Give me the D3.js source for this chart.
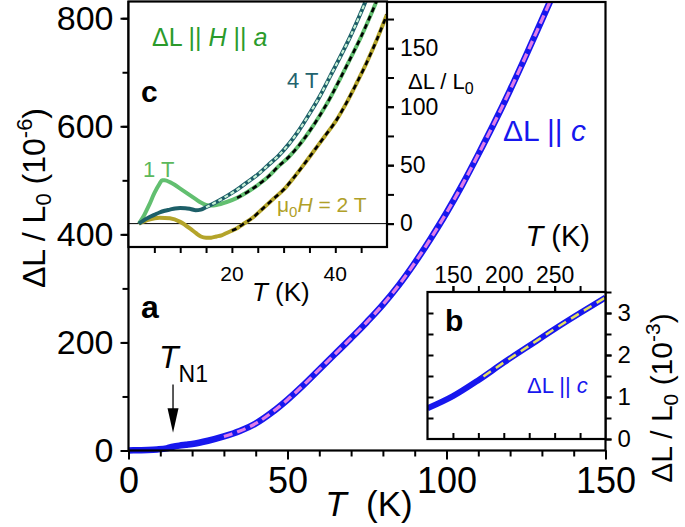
<!DOCTYPE html>
<html><head><meta charset="utf-8">
<script src="https://cdn.jsdelivr.net/npm/d3@7"></script>
<style>body{margin:0;background:#fff}svg{display:block}text{font-family:"Liberation Sans",Arial,sans-serif}</style>
</head><body><svg id="c" width="685" height="527"></svg>
<script>
// ---- main panel (a): dL/L0 along c, 10^-6 ----
const mainT = [0,3,6,9,12,14,16,18,20,25,30,35,40,45,50,55,60,65,70,75,80,85,90,95,100,105,110,115,120,125,130,134];
const mainV = [0,0.5,1,2,4,7,9,10.5,12,18,26,36,50,70,94,121,150,179,208,238,270,306,347,392,440,492,548,606,667,731,797,850];
const mainFitStart = 30;
const mainXTicks = [0,50,100,150];
const mainYTicks = [0,200,400,600,800];
const TN1 = 14;

// ---- inset b: dL/L0 along c, 10^-3, high T ----
const bT = [125,150,175,200,225,250,275,300];
const bV = [0.73,1.02,1.40,1.82,2.22,2.62,3.0,3.37];
const bFitT = [180,200,225,250,275,300];
const bFitV = [1.49,1.82,2.22,2.62,3.0,3.37];
const bXTicks = [150,200,250];
const bYTicks = [0,1,2,3];

// ---- inset c: dL || H || a, 10^-6 ----
const c1T = [2,3,4,5,6,6.5,7,8,9,10,11,12,13,14,15,16,17,19,21,23,25,27,29,31,33,35,37,39,41,43,45,47,48];
const c1V = [0,7,16,26,34,37,37,35.5,33,30,27,24,21,18,16,15.5,16,18.5,22,27,33,40,49,57,67,79,92.5,107.5,124.5,142,160,180,190.5];
const c4T = [2,3,4,5,6,7,8,9,10,11,12,13,14,15,17,19,21,23,25,27,29,31,33,35,37,39,41,43,45,46,47];
const c4V = [0,3,5.5,7.5,9.5,11,12,13,13.3,13.2,12.5,11.5,12,14,18.5,23.5,29,35.5,42,50,58,68,80,94,109,126,143,161,181,191.5,202];
const c2T = [2,4,6,8,10,12,13,14,15,16,17,18,19,20,21,22,24,26,28,30,32,34,36,38,40,42,44,46,48,50];
const c2V = [0,3.5,5,4.5,1.5,-4.5,-8,-11,-12,-12,-11,-10,-8,-6,-4,-1,5,13,21,29,39.5,51,63,75,87,102,119,137,157,179];
const cFitStart = {c1:20, c4:15, c2:20};
const cXLabels = [20,40];
const cYTicks = [0,50,100,150];

const svg = d3.select("#c");
const zip = (T,V,min=-Infinity) => T.map((t,i)=>[t,V[i]]).filter(d=>d[0]>=min);

// ================= MAIN =================
const x = d3.scaleLinear([0,150],[128.5,605.5]);
const y = d3.scaleLinear([0,830],[450.5,2]);
svg.append("clipPath").attr("id","cm").append("rect")
  .attr("x",x(0)).attr("y",y(830)).attr("width",x(150)-x(0)).attr("height",y(0)-y(830)+4);
const lineM = d3.line().x(d=>x(d[0])).y(d=>y(d[1])).curve(d3.curveMonotoneX);
const gm = svg.append("g").attr("clip-path","url(#cm)");
gm.append("path").attr("d",lineM(zip(mainT,mainV))).attr("fill","none").attr("stroke","#1717ee").attr("stroke-width",6.5);
gm.append("path").attr("d",lineM(zip(mainT,mainV,mainFitStart))).attr("fill","none").attr("stroke","#e07ce6").attr("stroke-width",3.2).attr("stroke-dasharray","9,5");

// axes
svg.append("g").attr("transform",`translate(0,${y(0)})`)
  .call(d3.axisBottom(x).tickValues(d3.range(0,151,10)).tickSize(6).tickFormat(""))
  .call(g=>g.select(".domain").remove());
svg.append("g").attr("transform",`translate(0,${y(0)})`)
  .call(d3.axisBottom(x).tickValues(mainXTicks).tickSize(9).tickPadding(8).tickFormat(d3.format("d")))
  .call(g=>g.select(".domain").remove())
  .call(g=>g.selectAll("text").attr("font-size",36).attr("fill","#000"));
svg.append("g").attr("transform",`translate(${x(0)},0)`)
  .call(d3.axisLeft(y).tickValues(d3.range(0,801,100)).tickSize(6).tickFormat(""))
  .call(g=>g.select(".domain").remove());
svg.append("g").attr("transform",`translate(${x(0)},0)`)
  .call(d3.axisLeft(y).tickValues(mainYTicks).tickSize(8).tickPadding(7).tickFormat(d3.format("d")))
  .call(g=>g.select(".domain").remove())
  .call(g=>g.selectAll("text").attr("font-size",34).attr("fill","#000"));
svg.selectAll(".tick line").attr("stroke","#000").attr("stroke-width",2);
svg.append("rect").attr("x",x(0)).attr("y",y(830)).attr("width",x(150)-x(0)).attr("height",y(0)-y(830))
  .attr("fill","none").attr("stroke","#000").attr("stroke-width",2.2);

// main labels
const yl = svg.append("text").attr("transform","translate(45,198) rotate(-90)").attr("text-anchor","middle").attr("font-size",32);
yl.append("tspan").text("ΔL / L");
yl.append("tspan").attr("font-size",22).attr("dy",6).text("0");
yl.append("tspan").attr("dy",-6).text(" (10");
yl.append("tspan").attr("font-size",22).attr("dy",-13).text("-6");
yl.append("tspan").attr("dy",13).text(")");
const xl = svg.append("text").attr("x",369).attr("y",516).attr("text-anchor","middle").attr("font-size",35);
xl.append("tspan").attr("font-style","italic").text("T");
xl.append("tspan").text("\u00a0 (K)");
svg.append("text").attr("x",141).attr("y",318).attr("font-size",32).attr("font-weight","bold").text("a");
const lc = svg.append("text").attr("x",503).attr("y",141).attr("font-size",30).attr("fill","#1717ee");
lc.append("tspan").text("ΔL || ");
lc.append("tspan").attr("font-style","italic").text("c");
// TN1 arrow
const tn = svg.append("text").attr("x",159).attr("y",368).attr("font-size",32);
tn.append("tspan").attr("font-style","italic").text("T");
tn.append("tspan").attr("font-size",23).attr("dy",14).text("N1");
svg.append("line").attr("x1",x(TN1)).attr("x2",x(TN1)).attr("y1",y(122)).attr("y2",y(70)).attr("stroke","#000").attr("stroke-width",1.3);
svg.append("path").attr("d",`M${x(TN1)-5.5},${y(78)}L${x(TN1)+5.5},${y(78)}L${x(TN1)},${y(33)}Z`).attr("fill","#000");

// ================= INSET B =================
const xb = d3.scaleLinear([125,300],[427.5,605.5]);
const yb = d3.scaleLinear([0,3.5],[439,292]);
svg.append("rect").attr("x",xb(125)).attr("y",yb(3.5)).attr("width",xb(300)-xb(125)).attr("height",yb(0)-yb(3.5)).attr("fill","#fff");
svg.append("clipPath").attr("id","cb").append("rect").attr("x",xb(125)).attr("y",yb(3.5)).attr("width",xb(300)-xb(125)).attr("height",yb(0)-yb(3.5));
const lineB = d3.line().x(d=>xb(d[0])).y(d=>yb(d[1])).curve(d3.curveMonotoneX);
const gb = svg.append("g").attr("clip-path","url(#cb)");
gb.append("path").attr("d",lineB(zip(bT,bV))).attr("fill","none").attr("stroke","#1717ee").attr("stroke-width",6);
gb.append("path").attr("d",lineB(zip(bFitT,bFitV))).attr("fill","none").attr("stroke","#e6e060").attr("stroke-width",2.5).attr("stroke-dasharray","9,6");
const gbAx = svg.append("g");
gbAx.append("g").attr("transform",`translate(0,${yb(3.5)})`)
  .call(d3.axisTop(xb).tickValues(d3.range(150,300,25)).tickSize(6).tickFormat(""));
gbAx.append("g").attr("transform",`translate(0,${yb(3.5)})`)
  .call(d3.axisTop(xb).tickValues(bXTicks).tickSize(6).tickPadding(3).tickFormat(d3.format("d")))
  .call(g=>g.selectAll("text").attr("font-size",23).attr("fill","#000"));
gbAx.append("g").attr("transform",`translate(0,${yb(0)})`)
  .call(d3.axisTop(xb).tickValues(d3.range(150,300,25)).tickSize(6).tickFormat(""));
gbAx.append("g").attr("transform",`translate(${xb(125)},0)`)
  .call(d3.axisRight(yb).tickValues(d3.range(0.5,3.5,0.5)).tickSize(6).tickFormat(""));
gbAx.append("g").attr("transform",`translate(${xb(300)},0)`)
  .call(d3.axisRight(yb).tickValues(d3.range(0,3.6,0.5)).tickSize(6).tickFormat(""));
gbAx.append("g").attr("transform",`translate(${xb(300)},0)`)
  .call(d3.axisRight(yb).tickValues(bYTicks).tickSize(6).tickPadding(6).tickFormat(d3.format("d")))
  .call(g=>g.selectAll("text").attr("font-size",24).attr("fill","#000"));
gbAx.selectAll(".domain").remove();
gbAx.selectAll(".tick line").attr("stroke","#000").attr("stroke-width",2);
svg.append("rect").attr("x",xb(125)).attr("y",yb(3.5)).attr("width",xb(300)-xb(125)).attr("height",yb(0)-yb(3.5))
  .attr("fill","none").attr("stroke","#000").attr("stroke-width",2.2);
svg.append("text").attr("x",445).attr("y",331).attr("font-size",30).attr("font-weight","bold").text("b");
const lb = svg.append("text").attr("x",527).attr("y",393).attr("font-size",22).attr("fill","#1717ee");
lb.append("tspan").text("ΔL || ");
lb.append("tspan").attr("font-style","italic").text("c");
const tb = svg.append("text").attr("x",590).attr("y",246).attr("text-anchor","end").attr("font-size",29);
tb.append("tspan").attr("font-style","italic").text("T");
tb.append("tspan").text(" (K)");
const yr = svg.append("text").attr("transform","translate(672,398) rotate(-90)").attr("text-anchor","middle").attr("font-size",30);
yr.append("tspan").text("ΔL / L");
yr.append("tspan").attr("font-size",21).attr("dy",6).text("0");
yr.append("tspan").attr("dy",-6).text(" (10");
yr.append("tspan").attr("font-size",21).attr("dy",-12).text("-3");
yr.append("tspan").attr("dy",12).text(")");

// ================= INSET C =================
const xc = d3.scaleLinear([0,50],[128.5,387]);
const yc = d3.scaleLinear([-20,190],[247,1.5]);
svg.append("rect").attr("x",xc(0)).attr("y",yc(190)).attr("width",xc(50)-xc(0)).attr("height",yc(-20)-yc(190)).attr("fill","#fff");
svg.append("clipPath").attr("id","cc").append("rect").attr("x",xc(0)).attr("y",yc(190)).attr("width",xc(50)-xc(0)).attr("height",yc(-20)-yc(190));
const lineC = d3.line().x(d=>xc(d[0])).y(d=>yc(d[1])).curve(d3.curveMonotoneX);
const gc = svg.append("g").attr("clip-path","url(#cc)");
gc.append("line").attr("x1",xc(0)).attr("x2",xc(50)).attr("y1",yc(0)).attr("y2",yc(0)).attr("stroke","#000").attr("stroke-width",1);
gc.append("path").attr("d",lineC(zip(c2T,c2V))).attr("fill","none").attr("stroke","#b4a42a").attr("stroke-width",4);
gc.append("path").attr("d",lineC(zip(c1T,c1V))).attr("fill","none").attr("stroke","#62bf70").attr("stroke-width",4);
gc.append("path").attr("d",lineC(zip(c4T,c4V))).attr("fill","none").attr("stroke","#1d5f68").attr("stroke-width",4);
gc.append("path").attr("d",lineC(zip(c2T,c2V,cFitStart.c2))).attr("fill","none").attr("stroke","#000").attr("stroke-width",2.6).attr("stroke-dasharray","5,4");
gc.append("path").attr("d",lineC(zip(c1T,c1V,cFitStart.c1))).attr("fill","none").attr("stroke","#000").attr("stroke-width",2.6).attr("stroke-dasharray","5,4");
gc.append("path").attr("d",lineC(zip(c4T,c4V,cFitStart.c4))).attr("fill","none").attr("stroke","#c8f2d8").attr("stroke-width",2.2).attr("stroke-dasharray","4,3");
const gcAx = svg.append("g");
gcAx.append("g").attr("transform",`translate(0,${yc(-20)})`)
  .call(d3.axisBottom(xc).tickValues(d3.range(5,50,5)).tickSize(6).tickFormat(""));
gcAx.append("g").attr("transform",`translate(${xc(50)},0)`)
  .call(d3.axisRight(yc).tickValues(d3.range(0,190,25)).tickSize(7).tickFormat(""));
gcAx.append("g").attr("transform",`translate(${xc(50)},0)`)
  .call(d3.axisRight(yc).tickValues(cYTicks).tickSize(7).tickPadding(6).tickFormat(d3.format("d")))
  .call(g=>g.selectAll("text").attr("font-size",23).attr("fill","#000"));
gcAx.selectAll(".domain").remove();
gcAx.selectAll(".tick line").attr("stroke","#000").attr("stroke-width",2);
svg.append("rect").attr("x",xc(0)).attr("y",yc(190)).attr("width",xc(50)-xc(0)).attr("height",yc(-20)-yc(190))
  .attr("fill","none").attr("stroke","#000").attr("stroke-width",2.2);
svg.selectAll(null).data(cXLabels).join("text").attr("x",d=>xc(d)).attr("y",281).attr("text-anchor","middle").attr("font-size",21).text(d=>d);
const tc = svg.append("text").attr("x",252).attr("y",301).attr("font-size",26);
tc.append("tspan").attr("font-style","italic").text("T");
tc.append("tspan").text(" (K)");
const ycl = svg.append("text").attr("x",408).attr("y",89).attr("font-size",22);
ycl.append("tspan").text("ΔL / L");
ycl.append("tspan").attr("font-size",16).attr("dy",5).text("0");
svg.append("text").attr("x",141).attr("y",102).attr("font-size",30).attr("font-weight","bold").text("c");
const lh = svg.append("text").attr("x",152).attr("y",46).attr("font-size",25).attr("fill","#2b9b2b");
lh.append("tspan").text("ΔL || ");
lh.append("tspan").attr("font-style","italic").text("H");
lh.append("tspan").text(" || ");
lh.append("tspan").attr("font-style","italic").text("a");
svg.append("text").attr("x",287).attr("y",88).attr("font-size",22).attr("fill","#23636e").text("4 T");
svg.append("text").attr("x",143).attr("y",177).attr("font-size",22).attr("fill","#5cb85c").text("1 T");
const l2 = svg.append("text").attr("x",277).attr("y",212).attr("font-size",21).attr("fill","#b0a028");
l2.append("tspan").text("μ");
l2.append("tspan").attr("font-size",15).attr("dy",5).text("0");
l2.append("tspan").attr("dy",-5).attr("font-style","italic").text("H");
l2.append("tspan").text(" = 2 T");
</script></body></html>
